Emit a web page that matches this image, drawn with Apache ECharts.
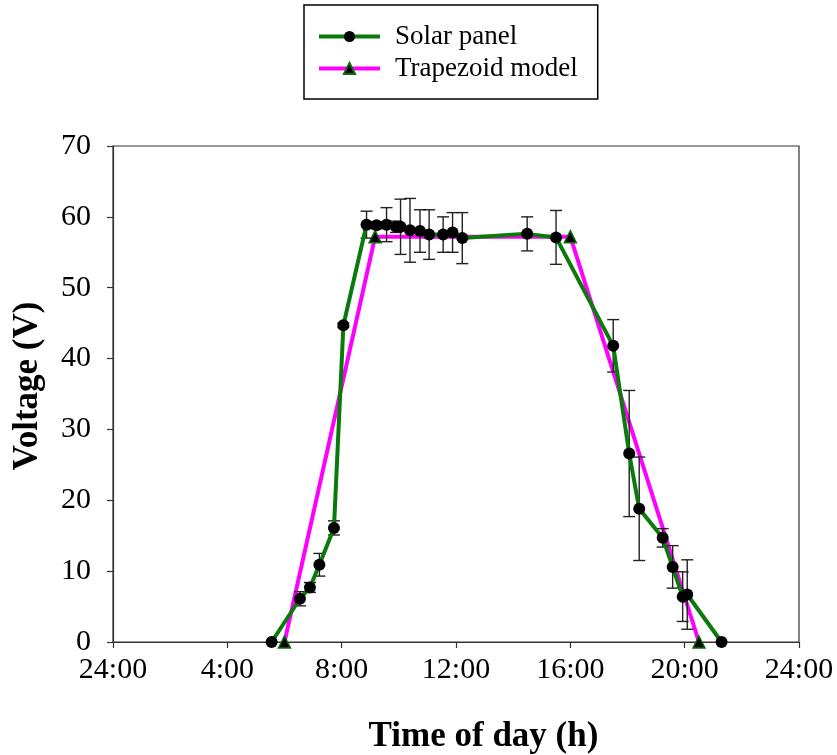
<!DOCTYPE html>
<html>
<head>
<meta charset="utf-8">
<script src="https://cdn.jsdelivr.net/npm/echarts@6/dist/echarts.min.js"></script>
<style>html,body{margin:0;padding:0;background:#fff;}#c{width:837px;height:755px;}</style>
</head>
<body>
<div id="c"></div>
<script>
// Solar panel measurements (time in hours, voltage in V, error +/- V)
const solarTime = [5.55, 6.54, 6.89, 7.22, 7.73, 8.06, 8.87, 9.22, 9.57, 9.90, 10.06, 10.39, 10.74, 11.06, 11.55, 11.88, 12.22, 14.49, 15.50, 17.50, 18.06, 18.41, 19.23, 19.58, 19.93, 20.09, 21.29];
const solarVolt = [0, 6.1, 7.7, 10.9, 16.1, 44.7, 58.9, 58.8, 58.9, 58.6, 58.6, 58.1, 58.0, 57.5, 57.5, 57.8, 57.0, 57.6, 57.1, 41.8, 26.6, 18.8, 14.7, 10.6, 6.4, 6.7, 0];
const solarErr  = [0, 1.0, 0.7, 1.6, 1.0, 0.3, 1.9, 0.5, 2.4, 0.8, 3.9, 4.5, 3.0, 3.5, 2.5, 2.8, 3.6, 2.4, 3.8, 3.7, 8.9, 7.3, 1.3, 3.0, 3.5, 4.9, 0];
// Trapezoid model
const trapTime = [6.0, 9.17, 16.0, 20.5];
const trapVolt = [0, 57.2, 57.2, 0];
// Axis ticks
const xTicks = [0, 4, 8, 12, 16, 20, 24];
const xTickLabels = ['24:00', '4:00', '8:00', '12:00', '16:00', '20:00', '24:00'];

const FONT = 'Liberation Serif';
const solarData = solarTime.map((t, i) => [t, solarVolt[i]]);
const trapData = trapTime.map((t, i) => [t, trapVolt[i]]);
const errData = solarTime.map((t, i) => [t, solarVolt[i] - solarErr[i], solarVolt[i] + solarErr[i]]).filter((d, i) => solarErr[i] > 0);

const chart = echarts.init(document.getElementById('c'), null, {renderer: 'canvas'});
chart.setOption({
  animation: false,
  backgroundColor: '#fff',
  grid: {left: 113, right: 38, top: 146, bottom: 113, show: true, borderColor: '#333', borderWidth: 1.2, containLabel: false, outerBoundsMode: 'none'},
  legend: {
    orient: 'vertical', left: 304, top: 5,
    borderColor: '#000', borderWidth: 1.5,
    padding: [18, 20, 17, 13],
    itemGap: 5,
    itemWidth: 61, itemHeight: 14,
    lineStyle: {width: 4},
    textStyle: {fontFamily: FONT, fontSize: 27, color: '#000', padding: [0, 0, 0, 10]},
    data: ['Solar panel', 'Trapezoid model']
  },
  xAxis: {
    type: 'value', min: 0, max: 24, interval: 4,
    name: 'Time of day (h)', nameLocation: 'middle', nameGap: 77,
    nameTextStyle: {fontFamily: FONT, fontSize: 35, fontWeight: 'bold', color: '#000', padding: [0, 0, 0, 55]},
    axisLine: {show: true, onZero: false, lineStyle: {color: '#333', width: 1.2}},
    axisTick: {show: true, inside: false, length: 6, lineStyle: {color: '#333', width: 1.2}},
    splitLine: {show: false},
    axisLabel: {
      fontFamily: FONT, fontSize: 30, color: '#000', margin: 13,
      formatter: v => { const k = xTicks.indexOf(v); return k >= 0 ? xTickLabels[k] : ''; }
    }
  },
  yAxis: {
    type: 'value', min: 0, max: 70, interval: 10,
    name: 'Voltage (V)', nameLocation: 'middle', nameGap: 68,
    nameTextStyle: {fontFamily: FONT, fontSize: 35, fontWeight: 'bold', color: '#000', padding: [0, 0, 0, 16]},
    axisLine: {show: true, lineStyle: {color: '#333', width: 1.2}},
    axisTick: {show: true, inside: false, length: 6, lineStyle: {color: '#333', width: 1.2}},
    splitLine: {show: false},
    axisLabel: {fontFamily: FONT, fontSize: 30, color: '#000', margin: 22}
  },
  series: [
    {
      name: 'Trapezoid model', type: 'line', data: trapData, z: 2,
      symbol: 'triangle', symbolSize: 12,
      lineStyle: {color: '#ff00ff', width: 4},
      itemStyle: {color: '#000', borderColor: '#0a6e0a', borderWidth: 1.5}
    },
    {
      name: 'Errors', type: 'custom', data: errData, z: 3,
      renderItem: function (params, api) {
        const x = api.value(0);
        const lo = api.coord([x, api.value(1)]);
        const hi = api.coord([x, api.value(2)]);
        const w = 6;
        const style = {stroke: '#222', lineWidth: 1.4};
        return {
          type: 'group',
          children: [
            {type: 'line', shape: {x1: lo[0], y1: lo[1], x2: hi[0], y2: hi[1]}, style: style},
            {type: 'line', shape: {x1: lo[0] - w, y1: lo[1], x2: lo[0] + w, y2: lo[1]}, style: style},
            {type: 'line', shape: {x1: hi[0] - w, y1: hi[1], x2: hi[0] + w, y2: hi[1]}, style: style}
          ]
        };
      }
    },
    {
      name: 'Solar panel', type: 'line', data: solarData, z: 4,
      symbol: 'circle', symbolSize: 12,
      lineStyle: {color: '#0a7a0a', width: 4},
      itemStyle: {color: '#000'}
    }
  ]
});
</script>
</body>
</html>
